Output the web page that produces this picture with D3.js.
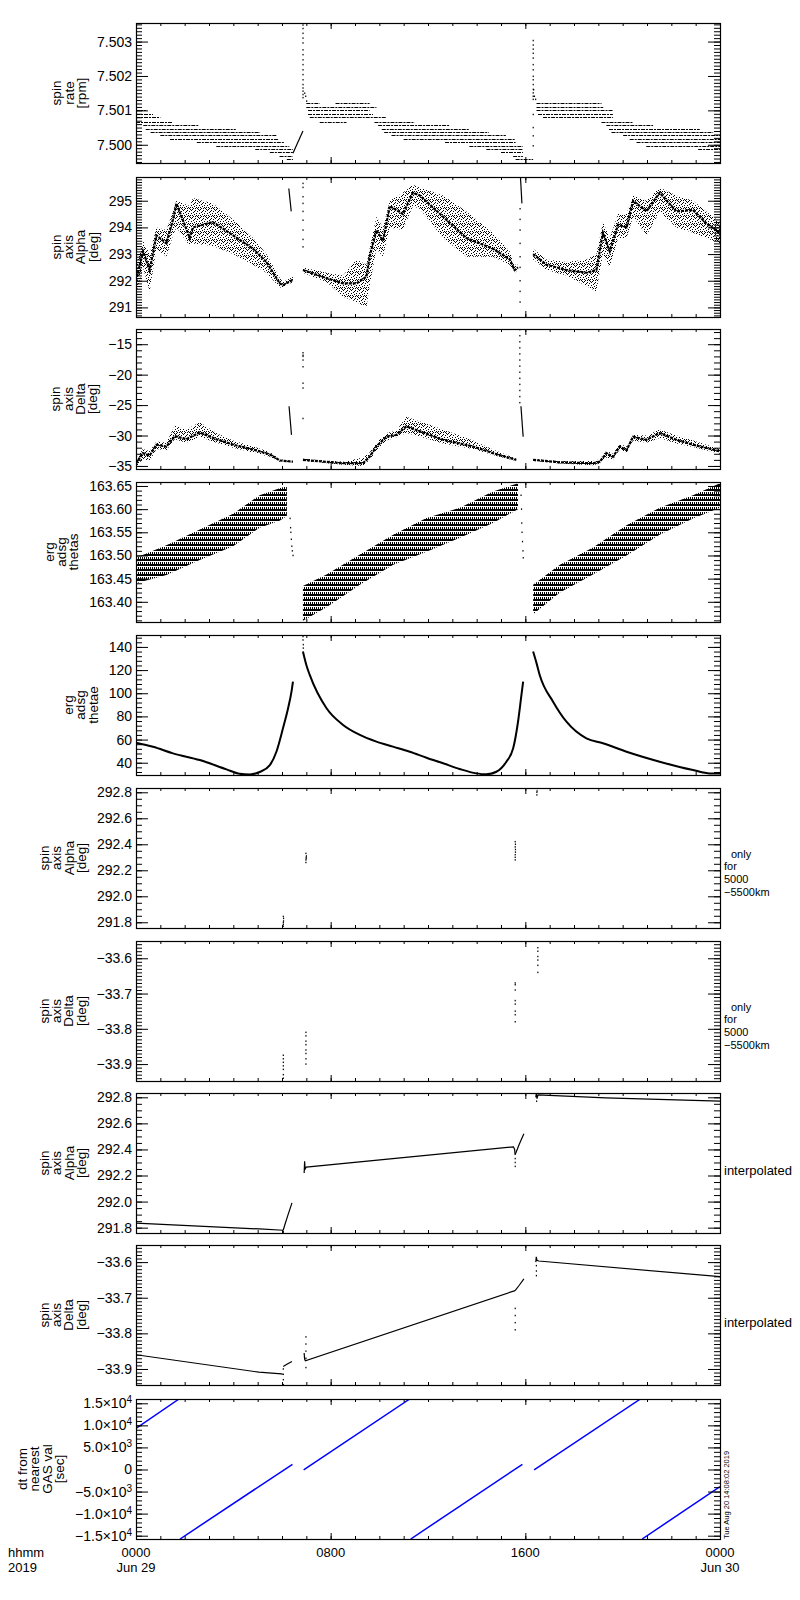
<!DOCTYPE html>
<html>
<head>
<meta charset="utf-8">
<script src="https://cdn.jsdelivr.net/npm/d3@7"></script>
<style>
  body { margin: 0; background: #fff; }
  svg { display: block; }
  text { font-family: "Liberation Sans", Arial, sans-serif; fill: #000; }
</style>
</head>
<body>
<svg id="chart" width="800" height="1600"></svg>
<script>
// time is in hours UT of 2019-06-29
var T0 = Date.UTC(2019, 5, 29);
function hr(h) { return new Date(T0 + h * 3600e3); }

// panel titles (one entry per text line) and right-hand notes
var titles = [
  ["spin", "rate", "[rpm]"],
  ["spin", "axis", "Alpha", "[deg]"],
  ["spin", "axis", "Delta", "[deg]"],
  ["erg", "adsg", "thetas"],
  ["erg", "adsg", "thetae"],
  ["spin", "axis", "Alpha", "[deg]"],
  ["spin", "axis", "Delta", "[deg]"],
  ["spin", "axis", "Alpha", "[deg]"],
  ["spin", "axis", "Delta", "[deg]"],
  ["dt from", "nearest", "GAS val", "[sec]"]
];
var notes = [null, null, null, null, null,
  ["only", "for", "5000", "\u22125500km"],
  ["only", "for", "5000", "\u22125500km"],
  ["interpolated"], ["interpolated"], null];

var yRanges = [
  [7.49947, 7.50354], [290.64, 295.89], [-35.5, -12.5], [163.3564, 163.6586],
  [29.4, 150.3], [291.756, 292.833], [-33.948, -33.551], [291.759, 292.833],
  [-33.945, -33.552], [-15750, 15970]
];
var majorSteps = [0.001, 1, 5, 0.05, 20, 0.2, 0.1, 0.2, 0.1, 5000];
var minorSteps = [0.0001, 0.1, 1, 0.01, 4, 0.05, 0.01, 0.05, 0.01, 1000];
var tickFormats = [".3f", "d", "d", ".2f", "d", ".1f", ".1f", ".1f", ".1f", "sci"];

// panel 1: spin rate, quantised levels [start h, end h, rpm]
var spinLevels = [
  [0.0, 0.4, 7.50100], [0.0, 0.7, 7.50090], [0.0, 1.0, 7.50080], [0.0, 1.5, 7.50067],
  [0.3, 2.6, 7.50057], [0.4, 4.1, 7.50047], [0.6, 5.1, 7.50038], [1.0, 5.8, 7.50028],
  [1.4, 5.85, 7.50018], [2.5, 6.1, 7.50008], [3.3, 6.3, 7.49997], [4.9, 6.45, 7.49988],
  [5.5, 6.45, 7.49978], [5.9, 6.45, 7.49968], [6.2, 6.45, 7.49959],
  [7.0, 7.55, 7.50120], [8.2, 9.6, 7.50120], [7.0, 9.88, 7.50110], [7.07, 9.6, 7.50100],
  [7.07, 9.74, 7.50090], [7.14, 10.3, 7.50080], [7.55, 8.65, 7.50067], [9.8, 11.45, 7.50067],
  [9.95, 12.9, 7.50057], [10.1, 13.7, 7.50047], [10.2, 14.5, 7.50038], [10.5, 15.2, 7.50028],
  [11.0, 15.6, 7.50018], [12.7, 15.6, 7.50008], [13.7, 15.9, 7.49997], [14.4, 15.9, 7.49988],
  [15.0, 15.9, 7.49978], [15.5, 15.9, 7.49968], [15.6, 16.32, 7.49959],
  [16.46, 19.13, 7.50120], [16.46, 19.2, 7.50110], [16.46, 19.6, 7.50100], [16.52, 19.6, 7.50090],
  [16.73, 19.6, 7.50080], [19.13, 20.43, 7.50067], [19.33, 21.25, 7.50057], [19.44, 23.17, 7.50047],
  [19.54, 23.72, 7.50038], [20.02, 24, 7.50028], [20.29, 24, 7.50018], [20.57, 24, 7.50008],
  [20.97, 24, 7.49997], [23.1, 24, 7.49988]
];
var spinRamp = [[6.45, 7.49975], [6.86, 7.50040]];
var spinSpike = [
  [6.86, 7.50348], [6.86, 7.50338], [6.86, 7.50324], [6.86, 7.50310], [6.86, 7.50296],
  [6.86, 7.50276], [6.86, 7.50262], [6.86, 7.50247], [6.86, 7.50233], [6.86, 7.50218],
  [6.86, 7.50204], [6.86, 7.50189], [6.86, 7.50175], [6.86, 7.50165], [6.86, 7.50156],
  [6.86, 7.50146], [6.86, 7.50137], [6.93, 7.50150], [6.97, 7.50141], [7.01, 7.50127],
  [16.32, 7.50303], [16.32, 7.50290], [16.32, 7.50278], [16.32, 7.50266], [16.32, 7.50252],
  [16.32, 7.50233], [16.32, 7.50218], [16.32, 7.50199], [16.32, 7.50189], [16.32, 7.50175],
  [16.32, 7.50161], [16.32, 7.50151], [16.32, 7.50141], [16.32, 7.50132], [16.32, 7.50088],
  [16.32, 7.50050], [16.32, 7.50026], [16.32, 7.49997], [16.34, 7.50160], [16.37, 7.50141],
  [16.42, 7.50132]
];

// panel 2: spin axis alpha, rows [h, low, core, high]
var alphaBand = [
  [[0.00, 291.5, 292.0, 292.5], [0.29, 292.5, 293.1, 293.5], [0.56, 291.6, 292.4, 293.0],
   [0.84, 293.2, 293.7, 294.0], [1.25, 292.9, 293.4, 293.9], [1.52, 293.7, 294.3, 294.6],
   [1.66, 294.0, 294.9, 295.0], [2.21, 293.3, 293.6, 294.8], [2.34, 293.4, 294.0, 295.1],
   [3.16, 293.3, 294.2, 294.9], [3.99, 293.0, 293.7, 294.3], [4.81, 292.6, 293.2, 293.6],
   [5.36, 292.3, 292.7, 293.0], [5.91, 291.75, 291.9, 292.1], [6.04, 291.75, 291.83, 291.95],
   [6.45, 291.95, 292.04, 292.15]],
  [[6.86, 292.3, 292.4, 292.5], [7.83, 291.95, 292.1, 292.3], [8.51, 291.4, 291.9, 292.2],
   [9.06, 291.2, 291.9, 292.8], [9.47, 291.0, 292.15, 292.6], [9.6, 291.8, 292.9, 293.2],
   [9.88, 293.2, 293.9, 294.4], [10.15, 292.9, 293.5, 294.0], [10.43, 294.0, 294.8, 295.0],
   [10.97, 293.9, 294.5, 295.3], [11.38, 294.8, 295.3, 295.6], [11.66, 294.7, 295.2, 295.5],
   [12.62, 293.6, 294.4, 295.2], [13.58, 292.9, 293.6, 294.6], [14.67, 292.9, 293.2, 293.8],
   [15.36, 292.6, 292.8, 293.1], [15.56, 292.3, 292.4, 292.6], [15.7, 292.4, 292.5, 292.6]],
  [[16.32, 292.8, 293.0, 293.2], [16.87, 292.4, 292.6, 292.8], [17.69, 292.2, 292.4, 292.7],
   [18.51, 291.8, 292.3, 292.8], [18.92, 291.6, 292.4, 293.0], [19.19, 293.0, 293.8, 294.2],
   [19.47, 292.5, 293.1, 293.6], [19.81, 293.6, 294.1, 294.5], [20.16, 293.6, 294.0, 294.5],
   [20.43, 294.4, 295.0, 295.2], [20.98, 293.7, 294.6, 295.0], [21.52, 294.6, 295.3, 295.5],
   [22.21, 294.0, 294.6, 295.2], [22.89, 293.8, 294.65, 295.0], [23.44, 293.6, 294.15, 294.6],
   [24.0, 293.4, 293.8, 294.2]]
];
var alphaStrokes = [[[6.28, 295.46], [6.38, 294.6]], [[15.80, 295.88], [15.86, 294.9]]];
var alphaDots = [
  [6.86, 295.65], [6.86, 295.5], [6.86, 295.15], [6.86, 294.9], [6.86, 294.6], [6.86, 294.27],
  [6.86, 293.9], [6.86, 293.55], [6.86, 293.27],
  [15.78, 294.7], [15.78, 294.3], [15.78, 293.9], [15.78, 293.4], [15.78, 292.9],
  [15.78, 292.5], [15.78, 292.0], [15.78, 291.6], [15.78, 291.2]
];

// panel 3: spin axis delta, rows [h, low, core, high]
var deltaBand = [
  [[0.00, -35.2, -34.6, -34.0], [0.28, -33.8, -32.9, -32.2], [0.56, -34.2, -33.3, -32.6],
   [0.84, -32.2, -31.5, -31.0], [1.25, -32.4, -31.8, -31.2], [1.59, -30.6, -30.1, -28.4],
   [2.07, -31.2, -30.6, -29.0], [2.62, -30.2, -29.5, -27.8], [3.3, -31.2, -30.6, -29.6],
   [3.99, -32.0, -31.5, -30.8], [4.81, -32.8, -32.3, -31.8], [5.5, -33.5, -33.1, -32.7],
   [5.91, -34.3, -34.1, -33.9], [6.45, -34.4, -34.3, -34.2]],
  [[6.86, -34.2, -34.0, -33.8], [8.51, -34.8, -34.55, -34.3], [9.33, -35.0, -34.55, -33.6],
   [9.6, -34.0, -33.5, -32.8], [9.88, -32.6, -31.8, -31.2], [10.29, -30.8, -30.2, -29.6],
   [10.7, -30.3, -29.9, -29.2], [11.11, -29.6, -28.5, -26.9], [11.52, -30.0, -29.1, -27.5],
   [12.62, -31.3, -30.7, -29.0], [13.85, -32.2, -31.8, -30.8], [14.67, -33.2, -32.9, -32.3],
   [15.63, -34.2, -34.0, -33.8]],
  [[16.32, -34.2, -34.0, -33.8], [17.42, -34.6, -34.4, -34.2], [18.78, -34.9, -34.55, -34.2],
   [19.06, -34.6, -34.3, -33.9], [19.33, -33.6, -32.9, -32.5], [19.6, -34.0, -33.5, -33.0],
   [19.88, -32.3, -31.8, -31.4], [20.16, -32.8, -32.4, -31.8], [20.43, -30.8, -30.2, -29.9],
   [20.98, -31.2, -30.7, -30.0], [21.52, -30.4, -29.6, -29.0], [22.21, -31.3, -30.7, -30.0],
   [22.89, -31.9, -31.5, -30.8], [24.0, -33.0, -32.6, -32.2]]
];
var deltaStrokes = [[[6.29, -25.2], [6.39, -29.9]], [[15.82, -25.2], [15.91, -30.2]]];
var deltaDots = [
  [6.86, -16.4], [6.86, -16.8], [6.86, -17.0], [6.86, -17.6], [6.86, -18.7], [6.86, -21.4],
  [6.86, -22.2], [6.86, -27.2],
  [15.77, -12.6], [15.77, -13.6], [15.77, -14.6], [15.77, -15.6], [15.77, -16.6], [15.77, -17.6],
  [15.77, -18.6], [15.77, -19.6], [15.77, -20.6], [15.77, -21.6], [15.77, -22.6], [15.77, -23.6],
  [15.77, -24.6]
];

// panel 4: thetas, rows [h, low, high]
var thetasBand = [
  [[0, 163.440, 163.495], [1.25, 163.458, 163.522], [2.62, 163.490, 163.556], [3.99, 163.520, 163.590],
   [5.08, 163.560, 163.630], [5.9, 163.575, 163.645], [6.2, 163.585, 163.650]],
  [[6.86, 163.359, 163.434], [7.83, 163.388, 163.459], [9.2, 163.437, 163.502], [10.57, 163.48, 163.545],
   [11.94, 163.508, 163.581], [13.31, 163.538, 163.603], [14.67, 163.57, 163.638], [15.7, 163.60, 163.656]],
  [[16.32, 163.373, 163.437], [17.42, 163.42, 163.48], [18.78, 163.459, 163.517], [20.16, 163.50, 163.565],
   [21.52, 163.545, 163.603], [22.89, 163.58, 163.63], [24, 163.603, 163.656]]
];
var thetasDots = [
  [6.33, 163.58], [6.35, 163.56], [6.36, 163.55], [6.38, 163.535], [6.40, 163.52], [6.42, 163.51], [6.45, 163.50],
  [15.82, 163.63], [15.84, 163.60], [15.85, 163.57], [15.86, 163.55], [15.88, 163.53], [15.9, 163.51], [15.91, 163.495]
];

// panel 5: thetae
var thetaeLine = [
  [[0, 57.3], [0.70, 53.8], [1.52, 48.1], [2.62, 42.3], [3.72, 34.3], [4.26, 30.5], [4.67, 29.9],
   [5.08, 32.0], [5.5, 38.0], [5.77, 49.5], [6.04, 69.7], [6.25, 87], [6.39, 101.4], [6.45, 110]],
  [[6.86, 136], [7.0, 124.4], [7.14, 115.8], [7.83, 87], [8.51, 72.6], [9.2, 64], [9.88, 58.2],
   [10.56, 53.9], [11.25, 49.5], [11.94, 44.3], [12.62, 39.5], [13.3, 34.6], [13.99, 30.8], [14.4, 30],
   [14.81, 32.2], [15.22, 40.9], [15.5, 52.4], [15.7, 75.4], [15.84, 98.5], [15.91, 110]],
  [[16.32, 136], [16.46, 126], [16.59, 115.8], [17.14, 92.7], [17.69, 75.4], [18.51, 61], [19.19, 56.8],
   [20.16, 49.5], [21.52, 40.9], [22.89, 33.7], [23.58, 30.8], [24, 30.8]]
];
var thetaeDots = [[6.86, 149], [6.86, 146], [6.87, 142], [6.87, 139]];

// panels 6, 7: only for 5000-5500 km
var alphaAltDots = [
  [6.05, 291.77], [6.05, 291.785], [6.05, 291.80], [6.06, 291.81], [6.06, 291.83], [6.05, 291.845],
  [6.98, 292.26], [6.98, 292.28], [6.99, 292.29], [6.99, 292.30], [7.0, 292.31], [6.98, 292.33],
  [15.58, 292.28], [15.58, 292.30], [15.58, 292.32], [15.59, 292.34], [15.59, 292.36],
  [15.58, 292.38], [15.59, 292.40], [15.58, 292.42],
  [16.47, 292.78], [16.47, 292.80], [16.48, 292.81], [16.48, 292.83]
];
var deltaAltDots = [
  [6.05, -33.875], [6.05, -33.885], [6.05, -33.895], [6.05, -33.905], [6.05, -33.915], [6.05, -33.93], [6.05, -33.94],
  [6.98, -33.81], [6.98, -33.82], [6.98, -33.835], [6.98, -33.845], [6.98, -33.86], [6.98, -33.87],
  [6.98, -33.885], [6.98, -33.90],
  [15.58, -33.67], [15.58, -33.675], [15.58, -33.69], [15.58, -33.72], [15.58, -33.73],
  [15.58, -33.75], [15.58, -33.76], [15.58, -33.78],
  [16.51, -33.57], [16.51, -33.58], [16.51, -33.595], [16.51, -33.605], [16.51, -33.62], [16.51, -33.64]
];

// panels 8, 9: interpolated
var alphaInterp = [
  [[0, 291.835], [5.07, 291.79], [6.05, 291.78]],
  [[6.05, 291.78], [6.13, 291.83], [6.25, 291.90], [6.41, 291.99]],
  [[6.91, 292.22], [6.93, 292.31], [6.95, 292.25], [7.0, 292.265], [15.51, 292.42], [15.56, 292.40], [15.58, 292.36]],
  [[15.58, 292.36], [15.75, 292.44], [15.94, 292.52]],
  [[16.43, 292.80], [16.45, 292.83], [16.48, 292.79], [16.52, 292.818], [19.3, 292.795], [24, 292.77]]
];
var alphaInterpDots = [[6.05, 291.77], [6.05, 291.76], [15.58, 292.27], [15.58, 292.30], [15.58, 292.33], [16.46, 292.77]];
var deltaInterp = [
  [[0, -33.86], [5.05, -33.909], [5.98, -33.914], [6.03, -33.915]],
  [[6.05, -33.893], [6.2, -33.887], [6.41, -33.879]],
  [[6.91, -33.855], [6.93, -33.872], [6.96, -33.877], [15.58, -33.68]],
  [[15.58, -33.68], [15.75, -33.665], [15.94, -33.647]],
  [[16.43, -33.60], [16.45, -33.585], [16.48, -33.595], [16.55, -33.597], [24, -33.641]]
];
var deltaInterpDots = [
  [6.05, -33.90], [6.05, -33.915], [6.05, -33.93], [6.05, -33.944],
  [6.98, -33.81], [6.98, -33.83], [6.98, -33.85], [6.98, -33.87], [6.98, -33.896],
  [15.58, -33.73], [15.58, -33.75], [15.58, -33.77], [15.58, -33.79],
  [16.45, -33.61], [16.45, -33.625], [16.45, -33.638]
];

// panel 10: dt from nearest GAS value [sec]
var dtLines = [
  [[0, 9300], [1.77, 15970]], [[1.81, -15750], [6.43, 1180]],
  [[6.89, -115], [11.25, 15970]], [[11.29, -15750], [15.88, 1177]],
  [[16.36, -115], [20.73, 15970]], [[20.8, -15750], [24, -3900]]
];

var timeTicks = [0, 8, 16, 24];
var stamp = "Tue Aug 20 14:08:02 2019";

// ---------------------------------------------------------------
var svg = d3.select("#chart"),
    panelTops = [23, 177, 329, 482, 635, 788, 941, 1093, 1245, 1399],
    PH = 140,
    left = 136, right = 720,
    font = "'Liberation Sans', Arial, sans-serif";

var x = d3.scaleUtc().domain([hr(0), hr(24)]).range([left, right]);

var defs = svg.append("defs");
// irregular speckle tile for the scattered samples
var speck = defs.append("pattern").attr("id", "speckle")
    .attr("width", 8).attr("height", 8).attr("patternUnits", "userSpaceOnUse");
[[0, 0], [3, 1], [6, 0], [1, 3], [5, 2], [7, 4], [2, 5], [4, 4], [0, 6], [6, 6],
 [3, 7], [5, 7], [2, 2], [7, 1], [1, 7], [4, 6]].forEach(function(p) {
    speck.append("rect").attr("x", p[0]).attr("y", p[1]).attr("width", 1).attr("height", 1).attr("fill", "#000");
});
var hatch = defs.append("pattern").attr("id", "hatch")
    .attr("width", 2).attr("height", 5).attr("patternUnits", "userSpaceOnUse");
hatch.append("rect").attr("x", 0).attr("y", 0).attr("width", 1).attr("height", 4).attr("fill", "#000");
hatch.append("rect").attr("x", 1).attr("y", 2).attr("width", 1).attr("height", 2).attr("fill", "#000");

function stepTicks(lo, hi, step) {
    var a = Math.ceil(lo / step - 1e-6), b = Math.floor(hi / step + 1e-6);
    return d3.range(a, b + 1).map(function(k) { return +(k * step).toFixed(6); });
}

function band(g, y, segs, fill) {
    var area = d3.area()
        .x(function(d) { return x(hr(d[0])); })
        .y0(function(d) { return y(d[1]); })
        .y1(function(d) { return y(d[d.length - 1]); });
    g.selectAll(null).data(segs).enter().append("path")
        .attr("d", area).attr("fill", fill);
}

function lines(g, y, segs, color, width, curve) {
    var line = d3.line()
        .x(function(d) { return x(hr(d[0])); })
        .y(function(d) { return y(d[1]); })
        .curve(curve || d3.curveLinear);
    g.selectAll(null).data(segs).enter().append("path")
        .attr("d", line).attr("fill", "none")
        .attr("stroke", color).attr("stroke-width", width);
}

function dots(g, y, pts) {
    g.selectAll(null).data(pts).enter().append("rect")
        .attr("x", function(d) { return x(hr(d[0])) - 0.5; })
        .attr("y", function(d) { return y(d[1]) - 0.75; })
        .attr("width", 1.2).attr("height", 1.5).attr("fill", "#000");
}

function core(g, y, segs) {
    var line = d3.line()
        .x(function(d) { return x(hr(d[0])); })
        .y(function(d) { return y(d[2]); });
    g.selectAll(null).data(segs).enter().append("path")
        .attr("d", line).attr("fill", "none")
        .attr("stroke", "#000").attr("stroke-width", 2.2)
        .attr("stroke-dasharray", "3,1");
}

var drawers = [
    function(g, y) {
        g.selectAll(null).data(spinLevels).enter().append("line")
            .attr("x1", function(d) { return x(hr(d[0])); })
            .attr("x2", function(d) { return x(hr(d[1])); })
            .attr("y1", function(d) { return Math.round(y(d[2])) + 0.5; })
            .attr("y2", function(d) { return Math.round(y(d[2])) + 0.5; })
            .attr("stroke", "#000").attr("stroke-width", 1)
            .attr("stroke-dasharray", "4,1,2,1");
        lines(g, y, [spinRamp], "#000", 1.2);
        dots(g, y, spinSpike);
    },
    function(g, y) {
        band(g, y, alphaBand, "url(#speckle)");
        core(g, y, alphaBand);
        lines(g, y, alphaStrokes, "#000", 1.2);
        dots(g, y, alphaDots);
    },
    function(g, y) {
        band(g, y, deltaBand, "url(#speckle)");
        core(g, y, deltaBand);
        lines(g, y, deltaStrokes, "#000", 1.2);
        dots(g, y, deltaDots);
    },
    function(g, y) {
        band(g, y, thetasBand, "url(#hatch)");
        dots(g, y, thetasDots);
    },
    function(g, y) {
        lines(g, y, thetaeLine, "#000", 2, d3.curveMonotoneX);
        dots(g, y, thetaeDots);
    },
    function(g, y) { dots(g, y, alphaAltDots); },
    function(g, y) { dots(g, y, deltaAltDots); },
    function(g, y) {
        lines(g, y, alphaInterp, "#000", 1.2);
        dots(g, y, alphaInterpDots);
    },
    function(g, y) {
        lines(g, y, deltaInterp, "#000", 1.2);
        dots(g, y, deltaInterpDots);
    },
    function(g, y) { lines(g, y, dtLines, "#0000ff", 1.5); }
];

function noDomain(sel) { sel.select(".domain").remove(); }

panelTops.forEach(function(top, i) {
    var g = svg.append("g").attr("transform", "translate(0," + top + ")");
    var y = d3.scaleLinear().domain(yRanges[i]).range([PH, 0]);

    defs.append("clipPath").attr("id", "clip" + i)
        .append("rect").attr("x", left).attr("y", 0).attr("width", right - left).attr("height", PH);
    var plot = g.append("g").attr("clip-path", "url(#clip" + i + ")");
    drawers[i](plot, y);

    var majors = stepTicks(yRanges[i][0], yRanges[i][1], majorSteps[i]),
        minors = stepTicks(yRanges[i][0], yRanges[i][1], minorSteps[i]),
        fmt = tickFormats[i] === "sci" ? function() { return ""; } : d3.format(tickFormats[i]);

    // y axes, ticks pointing into the box
    var yl = g.append("g").attr("transform", "translate(" + left + ",0)")
        .call(d3.axisLeft(y).tickValues(majors).tickSize(-12).tickPadding(4).tickFormat(fmt))
        .call(noDomain)
        .attr("font-family", font).attr("font-size", 14);
    g.append("g").attr("transform", "translate(" + left + ",0)")
        .call(d3.axisLeft(y).tickValues(minors).tickSize(-6).tickFormat(""))
        .call(noDomain);
    g.append("g").attr("transform", "translate(" + right + ",0)")
        .call(d3.axisRight(y).tickValues(majors).tickSize(-12).tickFormat(""))
        .call(noDomain);
    g.append("g").attr("transform", "translate(" + right + ",0)")
        .call(d3.axisRight(y).tickValues(minors).tickSize(-6).tickFormat(""))
        .call(noDomain);

    if (tickFormats[i] === "sci") {
        yl.selectAll(".tick text").each(function(d) {
            var t = d3.select(this);
            if (d === 0) { t.text("0"); return; }
            var e = Math.floor(Math.log10(Math.abs(d)) + 1e-9),
                m = d / Math.pow(10, e);
            t.append("tspan").text(d3.format(".1f")(m) + "\u00d710");
            t.append("tspan").attr("dy", "-0.5em").attr("font-size", 10).text(e);
        });
    }
    yl.selectAll(".tick text").attr("fill", "#000");

    // x axes top and bottom
    [[PH, d3.axisBottom], [0, d3.axisTop]].forEach(function(a) {
        g.append("g").attr("transform", "translate(0," + a[0] + ")")
            .call(a[1](x).ticks(d3.utcHour.every(8)).tickSize(-6).tickFormat(""))
            .call(noDomain);
        g.append("g").attr("transform", "translate(0," + a[0] + ")")
            .call(a[1](x).ticks(d3.utcHour.every(1)).tickSize(-3).tickFormat(""))
            .call(noDomain);
    });

    g.append("rect").attr("x", left + 0.5).attr("y", 0.5)
        .attr("width", right - left).attr("height", PH)
        .attr("fill", "none").attr("stroke", "#000").attr("stroke-width", 1.2);

    // rotated title, placed left of the widest tick label
    var minX = d3.min(yl.selectAll(".tick text").nodes(), function(n) { return n.getBBox().x; });
    var lastBase = left + minX - 11,
        ttl = titles[i];
    ttl.forEach(function(s, k) {
        var bx = lastBase - (ttl.length - 1 - k) * 12.3;
        g.append("text")
            .attr("transform", "translate(" + bx + "," + (PH / 2) + ") rotate(-90)")
            .attr("text-anchor", "middle").attr("font-size", 13.5)
            .text(s);
    });

    if (notes[i]) {
        var nl = notes[i];
        nl.forEach(function(s, k) {
            g.append("text")
                .attr("x", right + 4 + (s === "only" ? 7 : 0))
                .attr("y", nl.length > 1 ? 69.5 + k * 12.8 : 82)
                .attr("font-size", nl.length > 1 ? 11 : 13)
                .text(s);
        });
    }

    if (i === panelTops.length - 1) {
        var fmtHM = d3.utcFormat("%H%M"), fmtDay = d3.utcFormat("%b %d");
        timeTicks.forEach(function(h) {
            var d = hr(h);
            g.append("text").attr("x", x(d)).attr("y", PH + 18)
                .attr("text-anchor", "middle").attr("font-size", 13).text(fmtHM(d));
            if (h % 24 === 0) {
                g.append("text").attr("x", x(d)).attr("y", PH + 33)
                    .attr("text-anchor", "middle").attr("font-size", 13).text(fmtDay(d));
            }
        });
        g.append("text").attr("x", 8).attr("y", PH + 18).attr("font-size", 13).text("hhmm");
        g.append("text").attr("x", 8).attr("y", PH + 33).attr("font-size", 13).text("2019");
        g.append("text")
            .attr("transform", "translate(728.5," + PH + ") rotate(-90)")
            .attr("font-size", 7.5).text(stamp);
    }
});
</script>
</body>
</html>
